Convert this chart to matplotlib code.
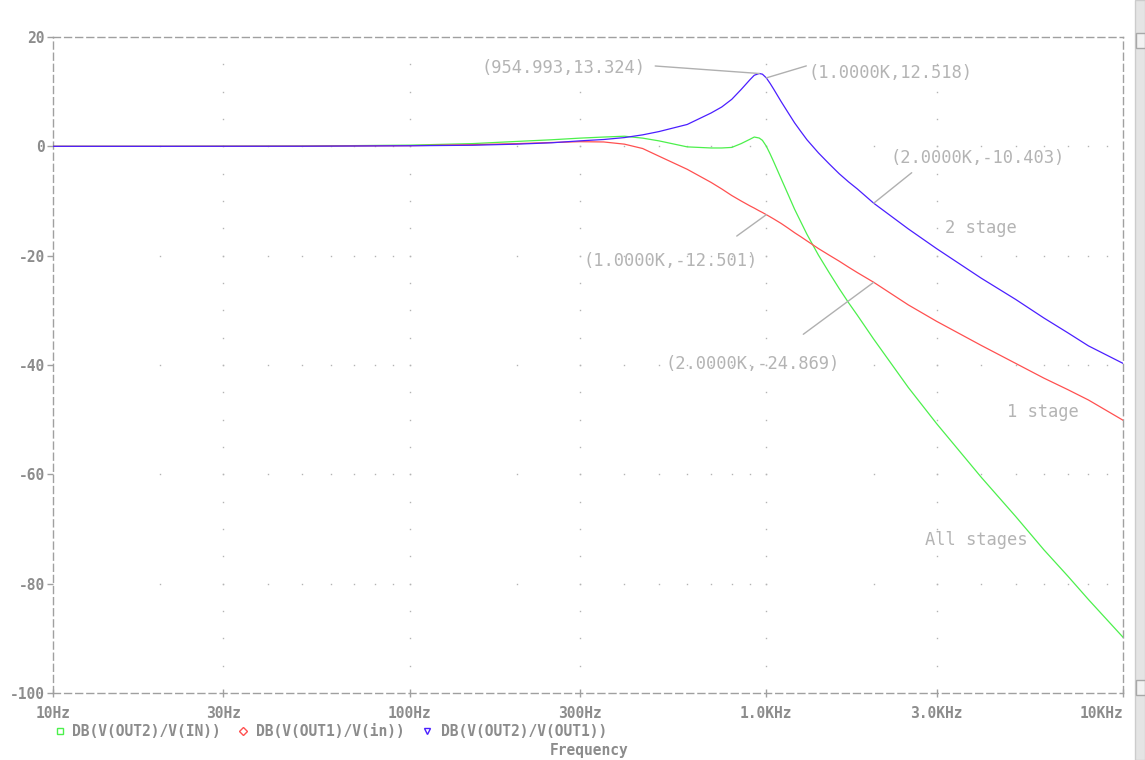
import numpy as np
import matplotlib.pyplot as plt
from matplotlib.lines import Line2D
from matplotlib.patches import Rectangle
from matplotlib.ticker import NullLocator

# AC sweep results (dB) for the two filter stages and the whole chain
freq = [10, 20, 50, 100, 150, 200, 250, 300, 350, 400,
        450, 500, 600, 700, 750, 800, 850, 900, 925, 954.993,
        975, 1000, 1025, 1050, 1100, 1150, 1200, 1250, 1300, 1400,
        1500, 1600, 1700, 1800, 2000, 2500, 3000, 4000, 5000, 6000,
        7000, 8000, 10000]
db_all = [0, 0, 0.05, 0.22, 0.5, 0.9, 1.2, 1.5, 1.7, 1.85,
          1.5, 1.0, -0.1, -0.3, -0.3, -0.2, 0.5, 1.3, 1.7, 1.52,
          1.1, 0.02, -1.4, -2.9, -5.9, -8.75, -11.5, -13.85, -16.1, -19.9,
          -23.1, -26.0, -28.6, -30.9, -35.27, -44.1, -50.7, -60.5, -67.7, -73.8,
          -78.6, -82.9, -89.8]
db_stage1 = [0, 0, 0.03, 0.12, 0.3, 0.5, 0.7, 0.85, 0.8, 0.4,
             -0.4, -1.8, -4.2, -6.6, -7.8, -9.0, -10.0, -10.9, -11.3, -11.8,
             -12.1, -12.501, -12.9, -13.3, -14.1, -14.95, -15.8, -16.55, -17.3, -18.7,
             -19.9, -21.0, -22.1, -23.1, -24.869, -29.0, -32.0, -36.4, -39.7, -42.4,
             -44.5, -46.4, -50.1]
db_stage2 = [0, 0, 0.02, 0.1, 0.2, 0.4, 0.65, 1.0, 1.25, 1.6,
             2.1, 2.7, 4.0, 6.1, 7.2, 8.6, 10.4, 12.2, 13.0, 13.324,
             13.2, 12.518, 11.5, 10.4, 8.2, 6.2, 4.3, 2.7, 1.2, -1.2,
             -3.2, -5.0, -6.5, -7.8, -10.403, -15.1, -18.7, -24.1, -28.0, -31.4,
             -34.1, -36.5, -39.7]

trace_names = ["DB(V(OUT2)/V(IN))", "DB(V(OUT1)/V(in))", "DB(V(OUT2)/V(OUT1))"]
xticks = [10, 30, 100, 300, 1000, 3000, 10000]
xtick_labels = ["10Hz", "30Hz", "100Hz", "300Hz", "1.0KHz", "3.0KHz", "10KHz"]
yticks = list(range(-100, 21, 20))

GREEN, RED, BLUE = "#4cf04c", "#ff5050", "#4b1fff"
AXIS_GRAY = "#a0a0a0"
TEXT_GRAY = "#8c8c8c"
NOTE_GRAY = "#b4b4b4"
MONO = "DejaVu Sans Mono"

W, H = 1145, 760
fig = plt.figure(figsize=(W / 100, H / 100), dpi=100)
fig.patch.set_facecolor("white")
ax = fig.add_axes([53 / W, 1 - 693 / H, 1070 / W, 656 / H])
ax.set_xscale("log")
ax.set_xlim(10, 10000)
ax.set_ylim(-100, 20)

# dotted probe-style grid: dots on major columns / major rows
minor_x = [m * 10 ** d for d in range(1, 4) for m in range(1, 10)]
minor_x = [x for x in minor_x if 10 < x < 10000]
minor_y = [y for y in range(-95, 20, 5)]
gx, gy = [], []
for x in xticks[1:-1]:
    for y in minor_y:
        gx.append(x)
        gy.append(y)
for y in yticks[1:-1]:
    for x in minor_x:
        gx.append(x)
        gy.append(y)
ax.plot(gx, gy, ls="none", marker="s", ms=1.0, mec="none", mfc="#b4b4b4", zorder=1)

# traces
ax.plot(freq, db_all, color=GREEN, lw=0.9, zorder=3)
ax.plot(freq, db_stage1, color=RED, lw=0.9, zorder=4)
ax.plot(freq, db_stage2, color=BLUE, lw=0.9, zorder=5)

# frame and ticks
for s in ax.spines.values():
    s.set_linestyle((0, (5, 3)))
    s.set_color(AXIS_GRAY)
    s.set_linewidth(1)
ax.xaxis.set_minor_locator(NullLocator())
ax.set_xticks(xticks)
ax.set_xticklabels(xtick_labels)
ax.set_yticks(yticks)
ax.set_yticklabels([str(v) for v in yticks])
ax.tick_params(axis="x", direction="inout", length=6, width=1, pad=6,
               color=AXIS_GRAY, labelcolor=TEXT_GRAY)
ax.tick_params(axis="y", direction="out", length=4.5, width=1, pad=1.5,
               color=AXIS_GRAY, labelcolor=TEXT_GRAY)
for lab in ax.get_xticklabels() + ax.get_yticklabels():
    lab.set_fontfamily(MONO)
    lab.set_fontsize(10.5)
    lab.set_fontweight("bold")
# keep the last frequency label inside the frame
ax.get_xticklabels()[-1].set_horizontalalignment("right")


def fmt_val(v):
    if abs(v) >= 1000:
        return f"{v / 1000:.4f}K"
    return f"{v:.3f}"


# cursor marks: (trace, frequency, leader offset, text offset, alignment)
marks = [
    (db_stage2, 954.993, (-104, 7.5), (-114, 5.5), "right"),
    (db_stage2, 1000, (40, 12), (42, 5), "left"),
    (db_stage2, 2000, (38, 30.5), (17, 45), "left"),
    (db_stage1, 1000, (-29.6, -21.4), (-9, -46.4), "right"),
    (db_stage1, 2000, (-70.4, -52), (-34, -81.7), "right"),
]
for vals, f, line_off, text_off, ha in marks:
    v = vals[freq.index(f)]
    ax.annotate("", xy=(f, v), xytext=line_off, textcoords="offset pixels",
                arrowprops=dict(arrowstyle="-", color="#b0b0b0", lw=1,
                                shrinkA=0, shrinkB=0), zorder=6)
    ax.annotate(f"({fmt_val(f)},{fmt_val(v)})", xy=(f, v), xytext=text_off,
                textcoords="offset pixels", ha=ha, va="center",
                fontfamily=MONO, fontsize=12.3, color=NOTE_GRAY, zorder=6)

# trace names
ax.text(3168, -14.9, "2 stage", fontfamily=MONO, fontsize=12.3, color=NOTE_GRAY,
        ha="left", va="center")
ax.text(4726, -48.6, "1 stage", fontfamily=MONO, fontsize=12.3, color=NOTE_GRAY,
        ha="left", va="center")
ax.text(2783, -72.0, "All stages", fontfamily=MONO, fontsize=12.3, color=NOTE_GRAY,
        ha="left", va="center")

# legend row under the axis
legend_y = 1 - 731 / H
for name, color, marker, mx, tx in zip(trace_names, [GREEN, RED, BLUE],
                                       ["s", "D", "v"], [60, 243, 427], [72, 256, 441]):
    fig.add_artist(Line2D([mx / W], [legend_y], transform=fig.transFigure,
                          ls="none", marker=marker, ms=4.5 if marker != "D" else 4,
                          mfc="none", mec=color, mew=1))
    fig.text(tx / W, legend_y, name, fontfamily=MONO, fontsize=10.5,
             fontweight="bold", color=TEXT_GRAY, ha="left", va="center")
fig.text(589 / W, 1 - 751 / H, "Frequency", fontfamily=MONO, fontsize=10.5,
         fontweight="bold", color=TEXT_GRAY, ha="center", va="center")

# window scrollbar strip on the right edge
fig.add_artist(Rectangle((1135 / W, 0), 10 / W, 1, transform=fig.transFigure,
                         facecolor="#e4e4e4", edgecolor="#cccccc", lw=1))
for top in (33, 680):
    fig.add_artist(Rectangle((1136 / W, 1 - (top + 15) / H), 9 / W, 15 / H,
                             transform=fig.transFigure, facecolor="#f2f2f2",
                             edgecolor="#a8a8a8", lw=1))

fig.savefig("out.png", dpi=100, facecolor="white")
